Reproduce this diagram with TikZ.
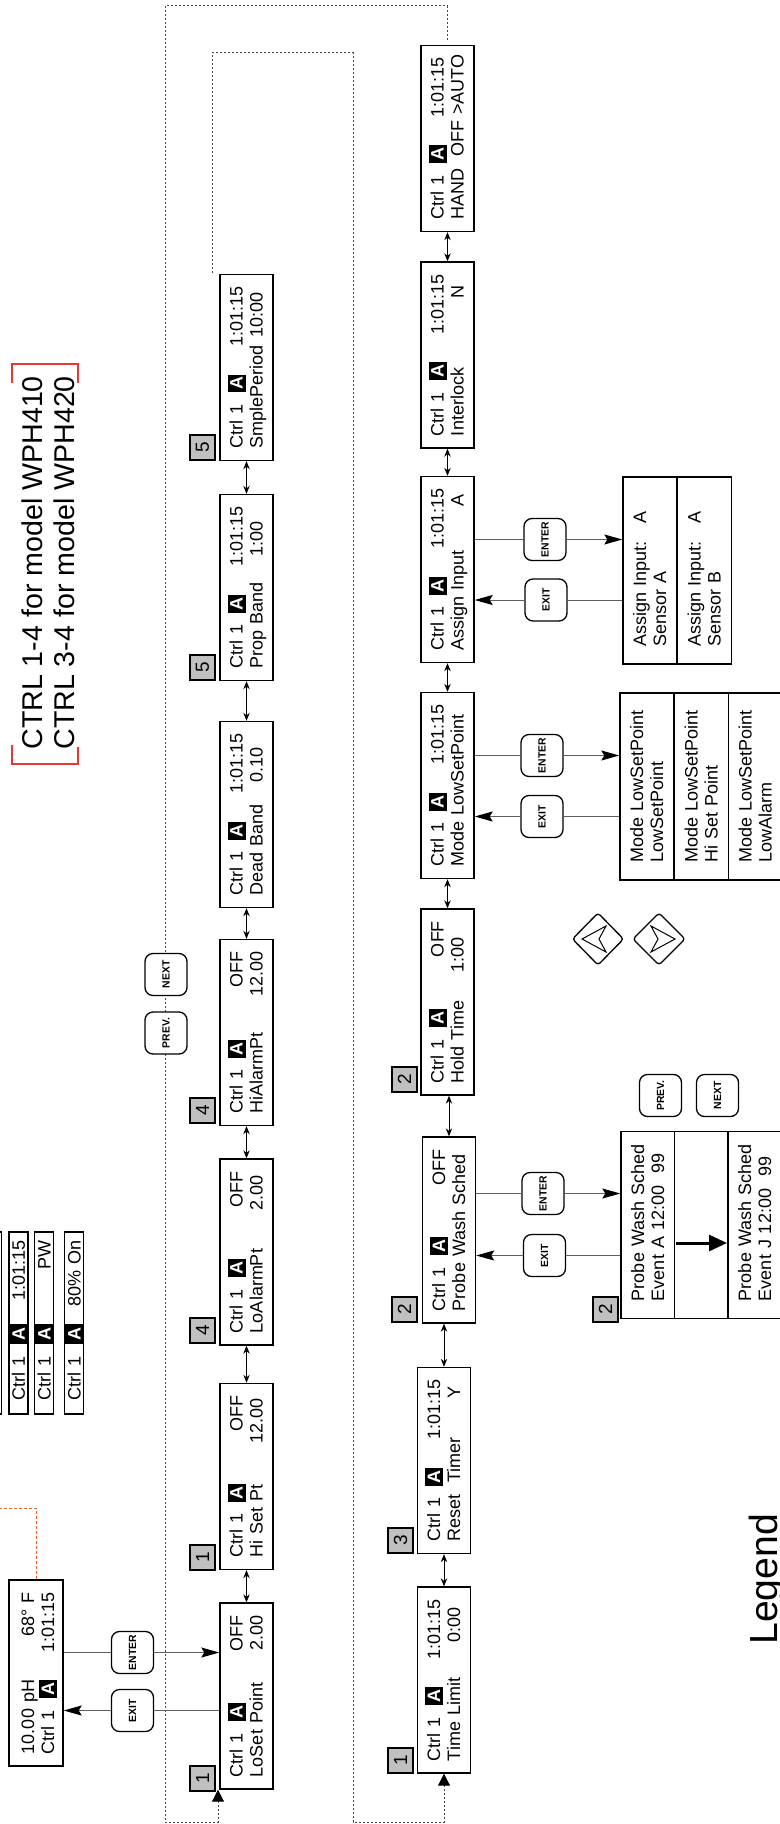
\documentclass[tikz,border=0pt]{standalone}
\usepackage{fontspec}
\setmainfont{Liberation Sans}
\usetikzlibrary{arrows.meta,calc}
\definecolor{tagfill}{RGB}{192,192,192}
\definecolor{orangeline}{RGB}{232,100,50}
\definecolor{redbr}{RGB}{226,58,58}
\definecolor{lineg}{RGB}{95,95,95}
\definecolor{dotg}{RGB}{70,70,70}
\newcommand\Ahl{{\setlength{\fboxsep}{0pt}\colorbox{black}{\rule[-1.5pt]{0pt}{9pt}\makebox[9pt]{\color{white}\bfseries A}}}}
\newcommand\Ahs{{\setlength{\fboxsep}{0pt}\colorbox{black}{\rule[-1.5pt]{0pt}{9.5pt}\makebox[10pt]{\color{white}\bfseries A}}}}
\newcommand\TLs{\rule{0pt}{8pt}}
\newcommand\BLs{\rule[-2pt]{0pt}{2pt}}
\newcommand\CA{\TLs Ctrl 1\ \ \Ahl}
\begin{document}
\begin{tikzpicture}[x=0.5pt,y=-0.5pt,
  lcd/.style={draw, line width=0.7pt, fill=white, rotate=90, minimum width=93pt, minimum height=26.5pt, text width=81pt, inner xsep=6pt, inner ysep=0pt, align=left, font=\fontsize{9}{10}\selectfont},
  lcdm/.style={lcd, minimum height=27pt},
  subbox/.style={lcd, minimum width=93.5pt, minimum height=27pt, text width=76pt, inner xsep=8.75pt},
  lcds/.style={draw, line width=0.7pt, fill=white, rotate=90, minimum width=91pt, minimum height=9.5pt, text width=83pt, inner xsep=4pt, inner ysep=0pt, align=left, font=\fontsize{9}{10}\selectfont},
  tag/.style={draw, line width=0.6pt, fill=tagfill, rotate=90, minimum size=12.5pt, inner sep=0pt, font=\fontsize{9.5}{10}\selectfont},
  btn/.style={draw, line width=0.65pt, rounded corners=4pt, fill=white, rotate=90, minimum size=21pt, inner sep=0pt, font=\fontsize{5.2}{6}\selectfont\bfseries},
  dbl/.style={line width=0.4pt, {Stealth[length=4pt,width=3.2pt]}-{Stealth[length=4pt,width=3.2pt]}},
  cline/.style={line width=0.5pt, draw=lineg},
  carr/.style={cline, -{Stealth[length=9pt,width=5pt,inset=1.5pt,color=black]}},
  dotl/.style={line width=0.5pt, draw=dotg, dash pattern=on 1pt off 1pt},
  darr/.style={dotl, -{Triangle[length=6pt,width=6pt,color=black]}},
  ttl/.style={rotate=90, anchor=base west, inner sep=0pt}
]
\fill[white] (0,0) rectangle (780,1824);
\useasboundingbox (0,0) rectangle (780,1824);

% ---- title
\node[ttl, font=\fontsize{14.3}{16}\selectfont] (t1) at (42,750) {CTRL 1-4 for model WPH410};
\node[ttl, font=\fontsize{14.3}{16}\selectfont] (t2) at (74,750) {CTRL 3-4 for model WPH420};
\draw[redbr, line width=0.6pt] (12,745) -- (12,764) -- (78,764) -- (78,747);
\draw[redbr, line width=0.6pt] (12,383) -- (12,364) -- (78,364) -- (78,383);

% ---- status lines
\draw[line width=0.7pt] (-20,1232) rectangle (1.5,1414);
\node[lcds] (st1) at (18.5,1323) {\hspace*{3pt}Ctrl 1\ \ \Ahs\hfill 1:01:15};
\node[lcds] (st2) at (44,1323) {\hspace*{3pt}Ctrl 1\ \ \Ahs\hfill PW\hspace*{5pt}};
\node[lcds] (st3) at (74,1323) {\hspace*{3pt}Ctrl 1\ \ \Ahs\hfill 80\% On};

% ---- main display
\node[lcdm] (main) at (36,1673) {\rule{0pt}{9.5pt}10.00 pH\hfill 68° F\hspace*{5.5pt}\\Ctrl 1\ \ \Ahl\hfill 1:01:15\rule[-0.5pt]{0pt}{0.5pt}};
\coordinate (or1) at (36,1508);
\coordinate (or2) at (-3,1508);
\draw[orangeline, line width=0.5pt, dash pattern=on 1.5pt off 1pt] (main.east) -- (or1) -- (or2);

% ---- row 1
\node[lcd] (loset) at (246.5,1696) {\CA\hfill OFF\\LoSet Point\hfill 2.00\BLs};
\node[lcd] (hiset) at (246.5,1476.5) {\CA\hfill OFF\hspace*{5pt}\\Hi Set Pt\hfill 12.00\hspace*{1.5pt}\BLs};
\node[lcd] (loal) at (246.5,1252) {\CA\hfill OFF\hspace*{7pt}\\LoAlarmPt\hfill 2.00\hspace*{2pt}\BLs};
\node[lcd] (hial) at (246.5,1032.5) {\CA\hfill OFF\hspace*{4pt}\\HiAlarmPt\hfill 12.00\BLs};
\node[lcd] (dead) at (246.5,814.5) {\CA\hfill 1:01:15\\Dead Band\hfill 0.10\hspace*{7pt}\BLs};
\node[lcd] (prop) at (246.5,587.5) {\CA\hfill 1:01:15\hspace*{2.5pt}\\Prop Band\hfill 1:00\hspace*{7.5pt}\BLs};
\node[lcd] (smpl) at (246.5,367.5) {\CA\hfill 1:01:15\hspace*{3pt}\\SmplePeriod\hfill 10:00\hspace*{3pt}\BLs};

\node[tag] (g1) at (202.5,1778.5) {1};
\node[tag] (g2) at (202.5,1557.5) {1};
\node[tag] (g3) at (202.5,1330.5) {4};
\node[tag] (g4) at (202.5,1110.5) {4};
\node[tag] (g5) at (202.5,667.5) {5};
\node[tag] (g6) at (202.5,447.5) {5};

\draw[dbl] (loset.east) -- (hiset.west);
\draw[dbl] (hiset.east) -- (loal.west);
\draw[dbl] (loal.east) -- (hial.west);
\draw[dbl] (hial.east) -- (dead.west);
\draw[dbl] (dead.east) -- (prop.west);
\draw[dbl] (prop.east) -- (smpl.west);

% ---- row 2
\node[lcd] (time) at (444,1680) {\CA\hfill 1:01:15\hspace*{3pt}\\Time Limit\hfill 0:00\hspace*{4pt}\BLs};
\node[lcd] (reset) at (444,1460.5) {\CA\hfill 1:01:15\hspace*{2.5pt}\\Reset\ \ Timer\hfill Y\hspace*{3.5pt}\BLs};
\node[lcd] (probe) at (449,1230) {\CA\hfill OFF\hspace*{9pt}\\\mbox{Probe Wash Sched}\BLs};
\node[lcd] (hold) at (447.5,1002) {\CA\hfill OFF\hspace*{7pt}\\Hold Time\hfill 1:00\hspace*{8pt}\BLs};
\node[lcd] (mode) at (447.5,785.5) {\CA\hfill 1:01:15\hspace*{5pt}\\\mbox{Mode LowSetPoint}\BLs};
\node[lcd] (assign) at (447.5,569.5) {\CA\hfill 1:01:15\hspace*{2pt}\\Assign Input\hfill A\hspace*{3pt}\BLs};
\node[lcd] (inter) at (447.5,355) {\CA\hfill 1:01:15\hspace*{3pt}\\Interlock\hfill N\hspace*{6pt}\BLs};
\node[lcd] (hand) at (447.5,138.5) {\CA\hfill 1:01:15\hspace*{2pt}\\\mbox{HAND\ \ OFF >AUTO}\BLs};

\node[tag] (h1) at (400.5,1760.5) {1};
\node[tag] (h2) at (400.5,1540.5) {3};
\node[tag] (h3) at (404.5,1309.5) {2};
\node[tag] (h4) at (404.5,1079.5) {2};

\draw[dbl] (time.east) -- (time.east |- reset.west);
\draw[dbl] (reset.east) -- (reset.east |- probe.west);
\draw[dbl] (probe.east) -- (probe.east |- hold.west);
\draw[dbl] (hold.east) -- (hold.east |- mode.west);
\draw[dbl] (mode.east) -- (mode.east |- assign.west);
\draw[dbl] (assign.east) -- (assign.east |- inter.west);
\draw[dbl] (inter.east) -- (inter.east |- hand.west);

% ---- sub menus
\node[subbox] (as1) at (650,570.5) {\TLs\mbox{Assign Input:\hspace{9pt}A}\\\mbox{Sensor A}\BLs};
\node[subbox] (as2) at (704.5,570.5) {\TLs\mbox{Assign Input:\hspace{9pt}A}\\\mbox{Sensor B}\BLs};
\node[subbox] (ms1) at (647,786.5) {\TLs\mbox{Mode LowSetPoint}\\\mbox{LowSetPoint}\BLs};
\node[subbox] (ms2) at (701.5,786.5) {\TLs\mbox{Mode LowSetPoint}\\\mbox{Hi Set Point}\BLs};
\node[subbox] (ms3) at (755.5,786.5) {\TLs\mbox{Mode LowSetPoint}\\\mbox{LowAlarm}\BLs};
\node[subbox] (ps1) at (648,1225) {\TLs\mbox{Probe Wash Sched}\\\mbox{Event A 12:00\ \ 99}\BLs};
\node[subbox] (ps2) at (701.5,1225) {};
\node[subbox] (ps3) at (755,1225) {\TLs\mbox{Probe Wash Sched}\\\mbox{Event J 12:00\ \ 99}\BLs};
\node[tag] (h5) at (605.5,1309.5) {2};
\coordinate (ta1) at (676,1243);
\coordinate (ta2) at (727,1243);
\draw[line width=1.5pt, -{Triangle[length=9pt,width=8pt]}] (ta1) -- (ta2);

% ---- dotted loops
\coordinate (dA0) at (447,40);
\coordinate (dA1) at (447,6);
\coordinate (dA2) at (165,6);
\coordinate (dA3) at (165,1822);
\coordinate (dA4) at (218,1822);
\draw[darr] (dA0) -- (dA1) -- (dA2) -- (dA3) -- (dA4) -- (dA4 |- loset.north west);
\coordinate (dB0) at (212,273);
\coordinate (dB1) at (212,53);
\coordinate (dB2) at (353,53);
\coordinate (dB3) at (353,1822);
\coordinate (dB4) at (444,1822);
\draw[darr] (dB0) -- (dB1) -- (dB2) -- (dB3) -- (dB4) -- (dB4 |- time.west);

% ---- buttons top
\node[btn] (pv0) at (166,1033) {PREV.};
\node[btn] (nx0) at (166,974.5) {NEXT};

\node[btn] (ex0) at (132.5,1710.5) {EXIT};
\node[btn] (en0) at (132.5,1652.5) {ENTER};
\draw[cline] (loset.north |- ex0) -- (ex0.south);
\draw[carr] (ex0.north) -- (main.south |- ex0);
\draw[cline] (main.south |- en0) -- (en0.north);
\draw[carr] (en0.south) -- (loset.north |- en0);

% assign
\node[btn] (enA) at (545,539.5) {ENTER};
\node[btn] (exA) at (546,600) {EXIT};
\draw[cline] (assign.south |- enA) -- (enA.north);
\draw[carr] (enA.south) -- (as1.north |- enA);
\draw[cline] (as1.north |- exA) -- (exA.south);
\draw[carr] (exA.north) -- (assign.south |- exA);
% mode
\node[btn] (enM) at (542,755.5) {ENTER};
\node[btn] (exM) at (542,816.5) {EXIT};
\draw[cline] (mode.south |- enM) -- (enM.north);
\draw[carr] (enM.south) -- (ms1.north |- enM);
\draw[cline] (ms1.north |- exM) -- (exM.south);
\draw[carr] (exM.north) -- (mode.south |- exM);
% probe
\node[btn] (enP) at (543,1193.5) {ENTER};
\node[btn] (exP) at (544.5,1255.5) {EXIT};
\draw[cline] (probe.south |- enP) -- (enP.north);
\draw[carr] (enP.south) -- (ps1.north |- enP);
\draw[cline] (ps1.north |- exP) -- (exP.south);
\draw[carr] (exP.north) -- (probe.south |- exP);

\node[btn] (pv1) at (660.5,1095.5) {PREV.};
\node[btn] (nx1) at (717.5,1095.5) {NEXT};

% ---- diamonds (up / down keys)
\draw[line width=0.65pt, rounded corners=1.5pt] (572.5,939) -- (598,913) -- (623.5,939) -- (598,965) -- cycle;
\draw[line width=0.5pt] (582,939) -- (606,926) -- (599,939) -- (606,952) -- cycle;
\draw[line width=0.65pt, rounded corners=1.5pt] (633,939) -- (659,913) -- (685,939) -- (659,965) -- cycle;
\draw[line width=0.5pt] (675,939) -- (651,926) -- (658,939) -- (651,952) -- cycle;

% ---- legend
\node[ttl, font=\fontsize{19.6}{22}\selectfont] (leg) at (777,1645) {Legend};
\end{tikzpicture}
\end{document}
